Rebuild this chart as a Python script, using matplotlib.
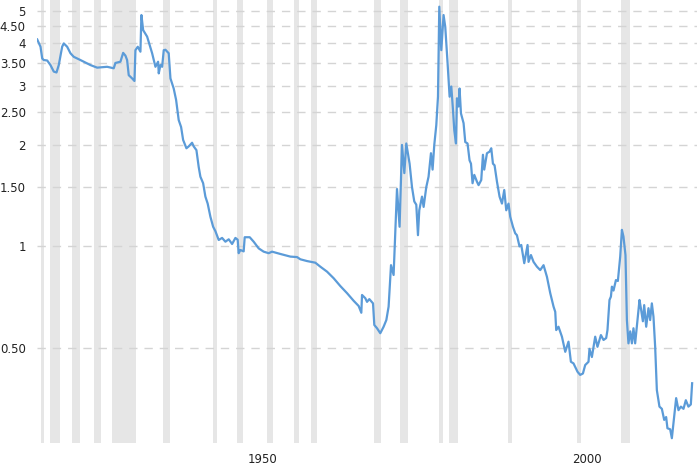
import matplotlib
matplotlib.use("Agg")
import matplotlib.pyplot as plt

# values (decimal year, value)
years = [1915.34, 1915.85, 1916.11, 1916.35, 1916.88, 1917.38, 1917.89, 1918.31, 1918.66, 1919.18,
         1919.43, 1919.95, 1920.46, 1920.97, 1922.0, 1923.54, 1924.57, 1926.11, 1927.12, 1927.38,
         1928.15, 1928.57, 1928.92, 1929.18, 1929.43, 1929.95, 1930.31, 1930.46, 1930.82, 1931.23,
         1931.38, 1931.65, 1932.26, 1932.66, 1933.03, 1933.54, 1933.95, 1934.05, 1934.31, 1934.57,
         1934.82, 1935.08, 1935.58, 1935.85, 1936.35, 1936.72, 1937.12, 1937.49, 1937.8, 1938.31,
         1938.66, 1939.18, 1939.43, 1939.85, 1940.2, 1940.46, 1940.88, 1941.23, 1941.58, 1942.0,
         1942.42, 1942.77, 1943.28, 1943.8, 1944.31, 1944.82, 1945.34, 1945.85, 1946.2, 1946.35,
         1946.62, 1947.12, 1947.28, 1948.05, 1948.66, 1949.43, 1950.2, 1950.97, 1951.49, 1952.77,
         1954.31, 1955.34, 1955.85, 1956.88, 1958.15, 1958.92, 1959.95, 1960.97, 1962.0, 1963.03,
         1964.05, 1964.82, 1965.23, 1965.34, 1965.85, 1966.11, 1966.46, 1967.03, 1967.23, 1967.65,
         1968.15, 1968.66, 1969.08, 1969.43, 1969.8, 1970.2, 1970.46, 1970.72, 1971.12, 1971.49,
         1971.85, 1972.15, 1972.66, 1973.03, 1973.38, 1973.69, 1973.95, 1974.15, 1974.57, 1974.82,
         1975.23, 1975.58, 1975.95, 1976.2, 1976.46, 1976.77, 1977.03, 1977.23, 1977.54, 1977.89,
         1978.15, 1978.51, 1978.82, 1979.08, 1979.34, 1979.54, 1979.8, 1979.95, 1980.2, 1980.35,
         1980.57, 1980.97, 1981.23, 1981.58, 1981.89, 1982.11, 1982.35, 1982.62, 1983.03, 1983.28,
         1983.69, 1983.95, 1984.15, 1984.57, 1984.97, 1985.23, 1985.49, 1985.74, 1986.11, 1986.51,
         1986.88, 1987.23, 1987.54, 1987.89, 1988.15, 1988.57, 1988.92, 1989.18, 1989.58, 1989.85,
         1990.31, 1990.82, 1990.97, 1991.34, 1991.74, 1992.26, 1992.51, 1992.77, 1993.28, 1993.8,
         1994.31, 1994.82, 1995.08, 1995.23, 1995.58, 1996.11, 1996.62, 1997.12, 1997.49, 1997.89,
         1998.51, 1998.92, 1999.34, 1999.69, 2000.2, 2000.35, 2000.72, 2001.23, 2001.58, 2002.11,
         2002.51, 2002.92, 2003.12, 2003.43, 2003.65, 2003.8, 2004.05, 2004.42, 2004.72, 2005.08,
         2005.34, 2005.58, 2005.89, 2006.11, 2006.35, 2006.62, 2006.88, 2007.12, 2007.38, 2007.74,
         2008.05, 2008.26, 2008.57, 2008.77, 2009.08, 2009.43, 2009.69, 2009.95, 2010.2, 2010.46,
         2010.72, 2011.12, 2011.49, 2011.85, 2012.15, 2012.35, 2012.77, 2013.03, 2013.38, 2013.69,
         2014.05, 2014.42, 2014.82, 2015.18, 2015.58, 2015.95, 2016.15]
values = [4.11, 3.91, 3.61, 3.57, 3.56, 3.45, 3.30, 3.28, 3.45, 3.91,
          4.00, 3.91, 3.74, 3.65, 3.57, 3.45, 3.39, 3.41, 3.375, 3.50,
          3.53, 3.75, 3.68, 3.57, 3.22, 3.15, 3.095, 3.82, 3.91, 3.78,
          4.855, 4.38, 4.19, 3.95, 3.74, 3.41, 3.53, 3.26, 3.45, 3.41,
          3.82, 3.83, 3.74, 3.15, 2.94, 2.72, 2.37, 2.26, 2.07, 1.955,
          1.98, 2.03, 1.98, 1.93, 1.72, 1.61, 1.54, 1.405, 1.34, 1.225,
          1.144, 1.11, 1.045, 1.06, 1.033, 1.05, 1.017, 1.06, 1.047, 0.955,
          0.976, 0.967, 1.065, 1.065, 1.033, 0.987, 0.965, 0.955, 0.965, 0.95,
          0.933, 0.93, 0.916, 0.905, 0.895, 0.871, 0.842, 0.805, 0.763, 0.727,
          0.69, 0.666, 0.636, 0.718, 0.702, 0.685, 0.698, 0.678, 0.585, 0.572,
          0.553, 0.578, 0.605, 0.663, 0.88, 0.823, 1.10, 1.48, 1.144, 2.0,
          1.65, 2.02, 1.76, 1.50, 1.36, 1.33, 1.08, 1.28, 1.405, 1.31,
          1.50, 1.61, 1.89, 1.69, 2.0, 2.29, 2.78, 5.14, 3.82, 4.855,
          4.48, 3.49, 2.78, 2.98, 2.54, 2.21, 2.02, 2.75, 2.60, 2.94,
          2.48, 2.32, 2.04, 2.02, 1.80, 1.76, 1.54, 1.63, 1.556, 1.52,
          1.574, 1.87, 1.69, 1.89, 1.91, 1.955, 1.76, 1.74, 1.556, 1.405,
          1.34, 1.47, 1.28, 1.34, 1.225, 1.144, 1.094, 1.08, 1.0, 1.01,
          0.892, 1.01, 0.90, 0.943, 0.90, 0.871, 0.861, 0.851, 0.88, 0.813,
          0.727, 0.663, 0.64, 0.565, 0.578, 0.54, 0.487, 0.522, 0.455, 0.45,
          0.425, 0.416, 0.42, 0.445, 0.455, 0.497, 0.47, 0.54, 0.504, 0.546,
          0.528, 0.535, 0.565, 0.694, 0.71, 0.76, 0.74, 0.795, 0.79, 0.933,
          1.12, 1.07, 0.943, 0.605, 0.516, 0.56, 0.516, 0.572, 0.516, 0.605,
          0.694, 0.656, 0.60, 0.67, 0.578, 0.656, 0.605, 0.678, 0.619, 0.504,
          0.375, 0.335, 0.33, 0.306, 0.312, 0.289, 0.287, 0.27, 0.313, 0.355,
          0.327, 0.335, 0.33, 0.35, 0.335, 0.34, 0.393]

# shaded periods (start, end)
band_start = [1915.95, 1917.38, 1920.66, 1924.15, 1926.92, 1934.66, 1942.42, 1946.11, 1950.77,
              1954.92, 1957.54, 1967.23, 1971.12, 1977.23, 1978.66, 1987.80, 1998.42, 2005.23]
band_end = [1916.46, 1918.82, 1921.89, 1925.23, 1930.62, 1935.74, 1943.08, 1947.08, 1951.58,
            1955.58, 1958.35, 1968.26, 1972.46, 1977.85, 1980.05, 1988.46, 1999.08, 2006.66]

ytick_vals = [0.5, 1, 1.5, 2, 2.5, 3, 3.5, 4, 4.5, 5]
ytick_labels = ["0.50", "1", "1.50", "2", "2.50", "3", "3.50", "4", "4.50", "5"]
xtick_vals = [1950, 2000]
xtick_labels = ["1950", "2000"]

fig = plt.figure(figsize=(6.97, 4.67), dpi=100)
ax = fig.add_axes([0.053, 0.051, 0.947, 0.949])

for s, e in zip(band_start, band_end):
    ax.axvspan(s, e, color="#e6e6e6", lw=0, zorder=0)

ax.plot(years, values, color="#5b9bd8", lw=1.6, zorder=3)

ax.set_yscale("log")
ax.set_ylim(0.261, 5.38)
ax.set_xlim(1915.3, 2016.9)

ax.set_yticks(ytick_vals)
ax.set_yticklabels(ytick_labels)
ax.yaxis.set_minor_locator(matplotlib.ticker.NullLocator())
ax.set_xticks(xtick_vals)
ax.set_xticklabels(xtick_labels)

ax.grid(axis="y", color="#d4d4d4", linestyle=(0, (6, 5)), lw=1, zorder=1)
ax.set_axisbelow(True)
for sp in ax.spines.values():
    sp.set_visible(False)
ax.tick_params(axis="both", length=0, labelsize=8.5, colors="#222222")
ax.tick_params(axis="y", pad=8)
ax.tick_params(axis="x", pad=7)

fig.savefig("out.png", dpi=100)
